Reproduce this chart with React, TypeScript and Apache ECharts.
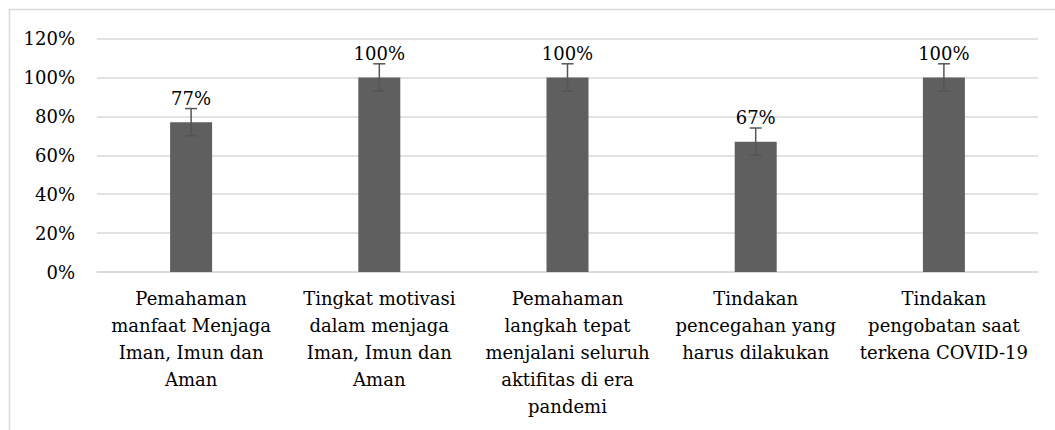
import React, { useEffect, useRef } from "react";
import * as echarts from "echarts";

const categories = [
  "Pemahaman\nmanfaat Menjaga\nIman, Imun dan\nAman",
  "Tingkat motivasi\ndalam menjaga\nIman, Imun dan\nAman",
  "Pemahaman\nlangkah tepat\nmenjalani seluruh\naktifitas di era\npandemi",
  "Tindakan\npencegahan yang\nharus dilakukan",
  "Tindakan\npengobatan saat\nterkena COVID-19",
];
const values = [0.77, 1.0, 1.0, 0.67, 1.0];
const errors = [0.07, 0.07, 0.07, 0.07, 0.07];
const yTicks = { min: 0, max: 1.2, interval: 0.2 };

const FONT = "DejaVu Serif";

export default function App() {
  const ref = useRef<HTMLDivElement>(null);
  useEffect(() => {
    const chart = echarts.init(ref.current!, undefined, { renderer: "svg" });
    chart.setOption({
      animation: false,
      backgroundColor: "#ffffff",
      textStyle: { fontFamily: FONT },
      graphic: [
        {
          type: "polyline",
          shape: { points: [[9.5, 440], [9.5, 9.5], [1060, 9.5]] },
          style: { stroke: "#d9d9d9", lineWidth: 1.5, fill: "none" },
          silent: true,
          z: 0,
        },
      ],
      grid: { left: 97, right: 17, top: 38.5, bottom: 158, containLabel: false },
      xAxis: {
        type: "category",
        data: categories,
        axisTick: { show: false },
        axisLine: { lineStyle: { color: "#d9d9d9", width: 1.5 } },
        axisLabel: {
          interval: 0,
          color: "#000000",
          fontFamily: FONT,
          fontSize: 18,
          lineHeight: 27,
          margin: 13,
          align: "center",
        },
      },
      yAxis: {
        type: "value",
        min: yTicks.min,
        max: yTicks.max,
        interval: yTicks.interval,
        axisLine: { show: false },
        axisTick: { show: false },
        splitLine: { lineStyle: { color: "#d9d9d9", width: 1.5 } },
        axisLabel: {
          color: "#000000",
          fontFamily: FONT,
          fontSize: 18,
          margin: 22,
          formatter: (v: number) => Math.round(v * 100) + "%",
        },
      },
      series: [
        {
          type: "bar",
          data: values,
          barWidth: 42,
          itemStyle: { color: "#5f5f5f" },
          label: {
            show: true,
            position: "top",
            distance: 15,
            color: "#000000",
            fontFamily: FONT,
            fontSize: 18,
            formatter: (p: any) => Math.round(p.value * 100) + "%",
          },
          z: 2,
        },
        {
          type: "custom",
          data: values.map((v, i) => [i, v - errors[i], v + errors[i]]),
          z: 3,
          renderItem: (params: any, api: any) => {
            const x = api.coord([api.value(0), 0])[0];
            const lo = api.coord([api.value(0), api.value(1)])[1];
            const hi = api.coord([api.value(0), api.value(2)])[1];
            const cap = 6;
            const style = { stroke: "#555555", lineWidth: 1.5 };
            return {
              type: "group",
              children: [
                { type: "line", shape: { x1: x, y1: lo, x2: x, y2: hi }, style },
                { type: "line", shape: { x1: x - cap, y1: hi, x2: x + cap, y2: hi }, style },
                { type: "line", shape: { x1: x - cap, y1: lo, x2: x + cap, y2: lo }, style },
              ],
            };
          },
        },
      ],
    });
    return () => chart.dispose();
  }, []);
  return <div ref={ref} style={{ width: 1055, height: 430, position: "absolute", left: 0, top: 0 }} />;
}
